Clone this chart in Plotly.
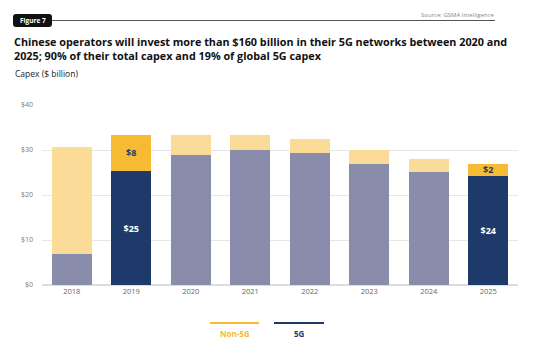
import plotly.graph_objects as go

years = ["2018", "2019", "2020", "2021", "2022", "2023", "2024", "2025"]
capex_5g = [7.0, 25.3, 28.8, 29.9, 29.4, 26.9, 25.1, 24.3]
capex_non5g = [23.6, 8.1, 4.6, 3.5, 3.0, 3.0, 2.8, 2.6]
label_5g = ["", "$25", "", "", "", "", "", "$24"]
label_non5g = ["", "$8", "", "", "", "", "", "$2"]
highlight = [False, True, False, False, False, False, False, True]
y_ticks = [0, 10, 20, 30, 40]
y_tick_labels = ["$0", "$10", "$20", "$30", "$40"]

NAVY = "#1d3a6b"
NAVY_MUTED = "#898cab"
GOLD = "#f6bb33"
GOLD_MUTED = "#fadb98"

W, H = 548, 351
L, R, T, B = 42, 518, 105, 285

def px(x):
    return (x - L) / (R - L)

def py(y):
    return (B - y) / (B - T)

FONT = "Open Sans"

fig = go.Figure()
fig.add_trace(go.Bar(
    x=years, y=capex_5g, name="5G",
    marker=dict(color=[NAVY if h else NAVY_MUTED for h in highlight], line=dict(width=0)),
    text=label_5g, textposition="inside", insidetextanchor="middle", textangle=0,
    constraintext="none", cliponaxis=False,
    textfont=dict(color="white", size=9, family=FONT, weight="bold"),
    hoverinfo="skip", showlegend=False,
))
fig.add_trace(go.Bar(
    x=years, y=capex_non5g, name="Non-5G",
    marker=dict(color=[GOLD if h else GOLD_MUTED for h in highlight], line=dict(width=0)),
    text=label_non5g, textposition="inside", insidetextanchor="middle", textangle=0,
    constraintext="none", cliponaxis=False,
    textfont=dict(color=NAVY, size=9, family=FONT, weight="bold"),
    hoverinfo="skip", showlegend=False,
))

fig.update_layout(
    width=W, height=H,
    barmode="stack", bargap=0.33,
    margin=dict(l=L, r=W - R, t=T, b=H - B),
    paper_bgcolor="white", plot_bgcolor="white",
    font=dict(family=FONT, color="#666666"),
    uniformtext=dict(minsize=6, mode="show"),
    xaxis=dict(showgrid=False, showline=False, ticks="", tickfont=dict(size=7.5, color="#666666"),
               fixedrange=True),
    yaxis=dict(range=[0, 40], tickvals=y_ticks, ticktext=y_tick_labels,
               showgrid=True, gridcolor="#e6e6e6", gridwidth=1, zeroline=True,
               zerolinecolor="#dcdcdc", zerolinewidth=2,
               tickfont=dict(size=7, color="#777777"), ticks="", ticklabelstandoff=8,
               fixedrange=True),
)

shapes = []
# header line
shapes.append(dict(type="line", xref="paper", yref="paper", x0=px(50), x1=px(495), y0=py(20.5), y1=py(20.5),
                   line=dict(color="#555555", width=1)))
# Figure badge
x0, x1, y0, y1, r = 13, 52, 14, 27, 3
path = (f"M {px(x0+r)},{py(y0)} L {px(x1-r)},{py(y0)} Q {px(x1)},{py(y0)} {px(x1)},{py(y0+r)} "
        f"L {px(x1)},{py(y1-r)} Q {px(x1)},{py(y1)} {px(x1-r)},{py(y1)} L {px(x0+r)},{py(y1)} "
        f"Q {px(x0)},{py(y1)} {px(x0)},{py(y1-r)} L {px(x0)},{py(y0+r)} Q {px(x0)},{py(y0)} {px(x0+r)},{py(y0)} Z")
shapes.append(dict(type="path", xref="paper", yref="paper", path=path, fillcolor="#111111", line=dict(width=0)))
# legend lines
shapes.append(dict(type="line", xref="paper", yref="paper", x0=px(210), x1=px(259), y0=py(323), y1=py(323),
                   line=dict(color=GOLD, width=2)))
shapes.append(dict(type="line", xref="paper", yref="paper", x0=px(274), x1=px(324), y0=py(323), y1=py(323),
                   line=dict(color=NAVY, width=2)))
fig.update_layout(shapes=shapes)

def ann(text, x, y, size, color, xanchor="left", bold=False, align="left"):
    fig.add_annotation(text=text, xref="paper", yref="paper", x=px(x), y=py(y), xanchor=xanchor,
                       yanchor="middle", showarrow=False, align=align,
                       font=dict(size=size, color=color, family=FONT, weight="bold" if bold else "normal"))

ann("Figure 7", 32.5, 20.5, 6.5, "white", xanchor="center", bold=True)
ann("Source: GSMA Intelligence", 496, 15, 6, "#888888", xanchor="right")
ann("Chinese operators will invest more than $160 billion in their 5G networks between 2020 and"
    "<br>2025; 90% of their total capex and 19% of global 5G capex",
    12, 48, 10.8, "#111111", bold=True)
ann("Capex ($ billion)", 13, 73.5, 8.5, "#222222")
ann("Non-5G", 234.5, 333.5, 8, GOLD, xanchor="center", bold=True)
ann("5G", 299, 333.5, 8, NAVY, xanchor="center", bold=True)

fig.write_html("out.html")
